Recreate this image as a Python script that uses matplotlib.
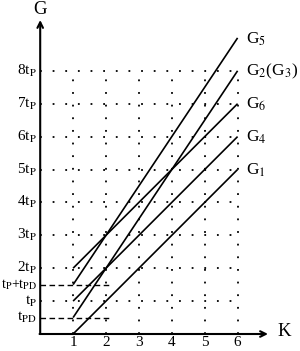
import matplotlib
matplotlib.use("Agg")
import matplotlib.pyplot as plt

plt.rcParams['font.family'] = ['Liberation Serif', 'DejaVu Serif']
plt.rcParams['mathtext.fontset'] = 'stix'

# Data (in units of t_P)
k_points = [1, 6]
line_labels = ["G$_1$", "G$_4$", "G$_6$", "G$_2$(G$_3$)", "G$_5$"]
start_vals = [0, 1, 2, 0.5, 1.5]
end_vals = [5, 6, 7, 8, 9]

x_ticks = [1, 2, 3, 4, 5, 6]
x_ticklabels = ["1", "2", "3", "4", "5", "6"]
y_ticks = [0.5, 1, 1.5, 2, 3, 4, 5, 6, 7, 8]
y_ticklabels = ["t$_{\\mathrm{PD}}$", "t$_{\\mathrm{P}}$", "t$_{\\mathrm{P}}$+t$_{\\mathrm{PD}}$",
                "2t$_{\\mathrm{P}}$", "3t$_{\\mathrm{P}}$", "4t$_{\\mathrm{P}}$", "5t$_{\\mathrm{P}}$",
                "6t$_{\\mathrm{P}}$", "7t$_{\\mathrm{P}}$", "8t$_{\\mathrm{P}}$"]
dashed_levels = [0.5, 1.5]
dashed_end = 2.1

fig = plt.figure(figsize=(3.0, 3.51), dpi=100)
ax = fig.add_axes([0, 0, 1, 1])
unit = 32.9
x0px, y0px = 40.2, 334.0
ax.set_xlim(-x0px / unit, (300 - x0px) / unit)
ax.set_ylim((y0px - 351) / unit, y0px / unit)
ax.axis('off')

dot = (0, (1, 6))
# grid: vertical dotted
for k in x_ticks:
    ax.plot([k, k], [0, max(y_ticks)], color='black', lw=1.3, linestyle=dot)
# horizontal dotted / dashed
for y in y_ticks:
    if y in dashed_levels:
        ax.plot([0, dashed_end], [y, y], color='black', lw=1.0, linestyle=(0, (4, 2.5)))
    else:
        ax.plot([0, x_ticks[-1]], [y, y], color='black', lw=1.3, linestyle=dot)

# lines
for lab, s, e in zip(line_labels, start_vals, end_vals):
    ax.plot(k_points, [s, e], color='black', lw=1.2, solid_capstyle='butt')
    ax.text(6.26, e - 0.03, lab, fontsize=12.5, ha='left', va='center')

# axes with arrows
ax.annotate('', xy=(0, (y0px - 20) / unit), xytext=(0, 0),
            arrowprops=dict(arrowstyle='->', lw=1.5, color='black', shrinkA=0, shrinkB=0,
                            mutation_scale=10))
ax.annotate('', xy=((268 - x0px) / unit, 0), xytext=(-0.02, 0),
            arrowprops=dict(arrowstyle='->', lw=1.5, color='black', shrinkA=0, shrinkB=0,
                            mutation_scale=10))
ax.text(0, (y0px - 10) / unit, "G", fontsize=13.5, ha='center', va='center')
ax.text((284 - x0px) / unit, (y0px - 331) / unit, "K", fontsize=13.5, ha='center', va='center')

for k, lab in zip(x_ticks, x_ticklabels):
    ax.text(k, (y0px - 343) / unit, lab, fontsize=11, ha='center', va='center')
for y, lab in zip(y_ticks, y_ticklabels):
    fs = 10 if y == 1.5 else 11
    ax.text(-0.1, y, lab, fontsize=fs, ha='right', va='center')

fig.savefig("out.png", dpi=100)
